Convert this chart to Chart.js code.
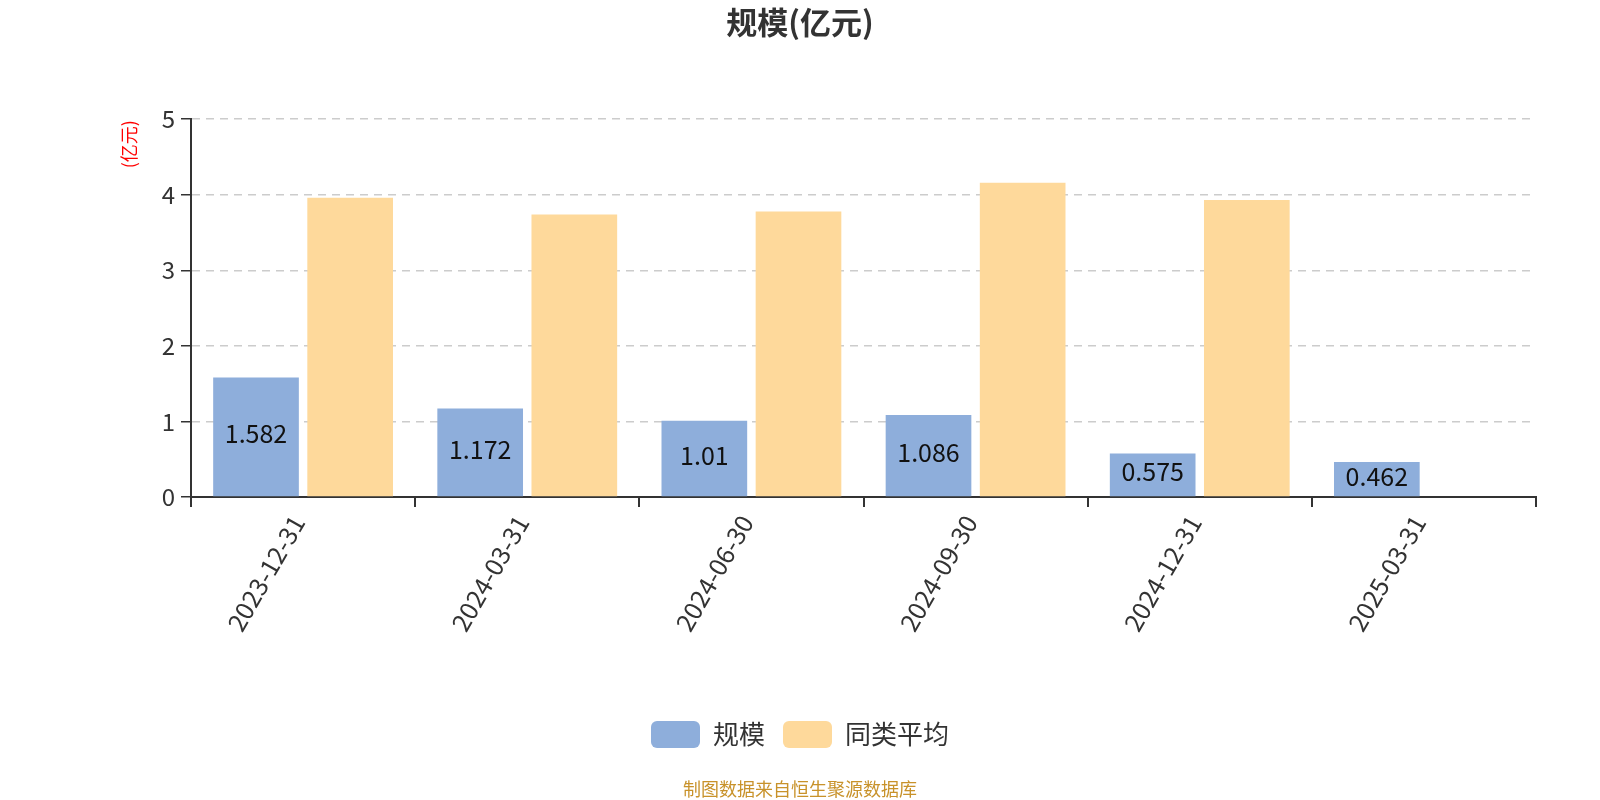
<!DOCTYPE html>
<html>
<head>
<meta charset="utf-8">
<script src="https://cdn.jsdelivr.net/npm/chart.js@4/dist/chart.umd.min.js"></script>
<style>
  html, body { margin: 0; padding: 0; background: #fff; }
  #wrap { width: 1600px; height: 800px; }
</style>
</head>
<body>
<div id="wrap"><canvas id="c" width="1600" height="800"></canvas></div>
<script>
// data
const categories = ['2023-12-31', '2024-03-31', '2024-06-30', '2024-09-30', '2024-12-31', '2025-03-31'];
const scaleValues = [1.582, 1.172, 1.01, 1.086, 0.575, 0.462];
const peerAverage = [3.96, 3.74, 3.78, 4.16, 3.93, null];
const yTicks = [0, 1, 2, 3, 4, 5];

const FONT = '"Noto Sans CJK SC", "Noto Sans", sans-serif';
const BLUE = '#8eaedb';
const ORANGE = '#fed99b';

// value labels inside the blue bars
const barLabels = {
    id: 'barLabels',
    afterDatasetsDraw(chart) {
        const ctx = chart.ctx;
        const meta = chart.getDatasetMeta(0);
        ctx.save();
        ctx.font = '25px ' + FONT;
        ctx.fillStyle = '#111';
        ctx.textAlign = 'center';
        ctx.textBaseline = 'middle';
        meta.data.forEach((bar, i) => {
            ctx.fillText(String(scaleValues[i]), bar.x, (bar.y + bar.base) / 2 - 3);
        });
        ctx.restore();
    }
};

// unit label above the y axis and the source note at the bottom
const extras = {
    id: 'extras',
    afterDraw(chart) {
        const ctx = chart.ctx;
        const top = chart.chartArea.top;
        ctx.save();
        ctx.translate(129, top + 1);
        ctx.rotate(-Math.PI / 2);
        ctx.font = '18px ' + FONT;
        ctx.fillStyle = '#ff0000';
        ctx.textAlign = 'right';
        ctx.textBaseline = 'middle';
        ctx.fillText('(亿元)', 0, 0);
        ctx.restore();

        ctx.save();
        ctx.font = '18px ' + FONT;
        ctx.fillStyle = '#c8922a';
        ctx.textAlign = 'center';
        ctx.textBaseline = 'middle';
        ctx.fillText('制图数据来自恒生聚源数据库', 800, 789);
        ctx.restore();
    }
};

new Chart(document.getElementById('c'), {
    type: 'bar',
    data: {
        labels: categories,
        datasets: [
            {
                label: '规模',
                data: scaleValues,
                backgroundColor: BLUE,
                borderWidth: 0,
                barPercentage: 0.91,
                categoryPercentage: 0.84
            },
            {
                label: '同类平均',
                data: peerAverage,
                backgroundColor: ORANGE,
                borderWidth: 0,
                barPercentage: 0.91,
                categoryPercentage: 0.84
            }
        ]
    },
    options: {
        responsive: false,
        animation: false,
        layout: { padding: { left: 0, right: 0, top: 0, bottom: 42 } },
        plugins: {
            title: {
                display: true,
                text: '规模(亿元)',
                color: '#333',
                font: { family: FONT, size: 31, weight: 'bold' },
                padding: { top: 4, bottom: 78 }
            },
            legend: {
                display: true,
                position: 'bottom',
                labels: {
                    color: '#333',
                    font: { family: FONT, size: 26 },
                    boxWidth: 49,
                    boxHeight: 27,
                    useBorderRadius: true,
                    borderRadius: 6,
                    padding: 18
                }
            },
            tooltip: { enabled: false }
        },
        scales: {
            y: {
                min: 0,
                max: 5,
                afterFit(s) { s.width = 191; },
                afterBuildTicks(s) { s.ticks = yTicks.map(v => ({ value: v })); },
                grid: {
                    color: '#cccccc',
                    lineWidth: 1.5,
                    tickColor: '#333',
                    tickLength: 10,
                    drawTicks: true
                },
                border: { display: true, color: '#333', width: 2, dash: [8, 6] },
                ticks: {
                    color: '#333',
                    padding: 6,
                    font: { family: FONT, size: 24 }
                }
            },
            // empty right-hand spacer so the plot ends where the reference does
            spacer: {
                type: 'linear',
                position: 'right',
                display: true,
                afterFit(s) { s.width = 64; },
                grid: { display: false, drawOnChartArea: false },
                border: { display: false },
                ticks: { display: false }
            },
            x: {
                afterFit(s) { s.height = 206; },
                border: { display: true, color: '#333', width: 2 },
                grid: {
                    offset: true,
                    drawOnChartArea: false,
                    color: '#333',
                    lineWidth: 2,
                    tickLength: 10
                },
                ticks: {
                    color: '#333',
                    padding: 3,
                    labelOffset: -5,
                    maxRotation: 60,
                    minRotation: 60,
                    font: { family: FONT, size: 25 }
                }
            }
        }
    },
    plugins: [barLabels, extras]
});
</script>
</body>
</html>
